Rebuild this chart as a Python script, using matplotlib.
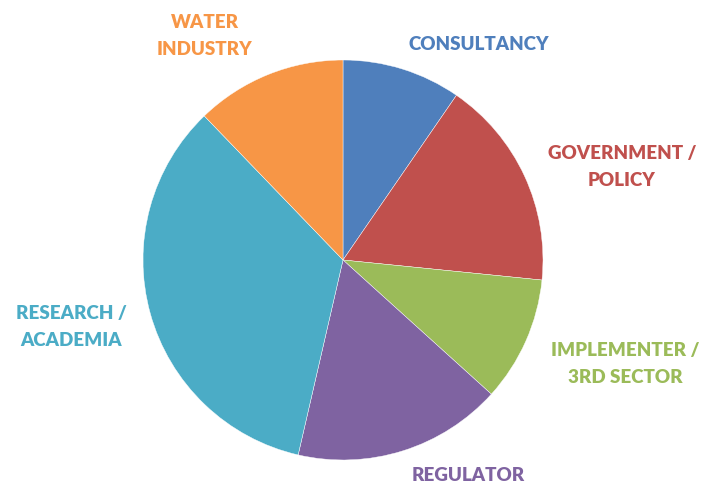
import matplotlib
matplotlib.use("Agg")
import matplotlib.pyplot as plt

categories = ["CONSULTANCY", "GOVERNMENT /\nPOLICY", "IMPLEMENTER /\n3RD SECTOR",
              "REGULATOR", "RESEARCH /\nACADEMIA", "WATER\nINDUSTRY"]
values = [9.6, 17.0, 10.1, 16.9, 34.2, 12.2]
colors = ["#4F7FBC", "#C0504D", "#9BBB59", "#7F63A1", "#4BACC6", "#F79646"]
text_colors = ["#4F7FBC", "#C0504D", "#9BBB59", "#7F63A1", "#4BACC6", "#F79646"]
# label anchor positions in pixels (x, y from top)
label_pos = [(479, 44), (622, 167), (625, 364), (468, 475), (71, 327), (205, 36)]

W, H = 709, 486
fig = plt.figure(figsize=(W / 100, H / 100), dpi=100)
fig.patch.set_facecolor("white")
cx, cy, r = 343, 260, 200
ax = fig.add_axes([(cx - r) / W, (H - cy - r) / H, 2 * r / W, 2 * r / H])
ax.pie(values, colors=colors, startangle=90, counterclock=False,
       wedgeprops=dict(edgecolor="white", linewidth=0.3))
ax.set_xlim(-1, 1)
ax.set_ylim(-1, 1)
ax.set_aspect("equal")
ax.axis("off")

for lab, (px, py), col in zip(categories, label_pos, text_colors):
    fig.text(px / W, 1 - py / H, lab, ha="center", va="center", color=col,
             fontsize=13.5, fontweight="heavy", family=["Lato", "DejaVu Sans"],
             linespacing=1.75, multialignment="center")

fig.savefig("out.png", dpi=100)
